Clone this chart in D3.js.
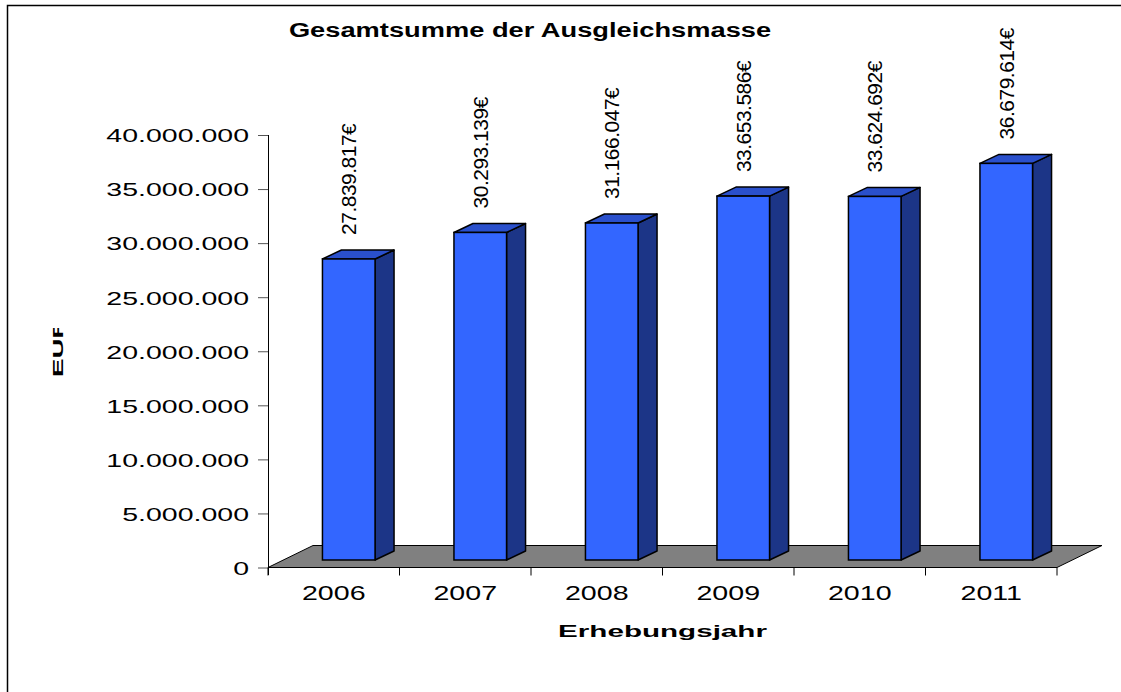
<!DOCTYPE html>
<html>
<head>
<meta charset="utf-8">
<script src="https://cdn.jsdelivr.net/npm/d3@7"></script>
<style>
  html, body { margin: 0; padding: 0; background: #fff; overflow: hidden; }
  svg { display: block; }
  text { font-family: "Liberation Sans", Arial, sans-serif; }
</style>
</head>
<body>
<div id="chart"></div>
<script>
  // data
  var years = ["2006", "2007", "2008", "2009", "2010", "2011"];
  var values = [27839817, 30293139, 31166047, 33653586, 33624692, 36679614];
  var yTicks = [0, 5000000, 10000000, 15000000, 20000000, 25000000, 30000000, 35000000, 40000000];

  var width = 1121, height = 692;

  var de = d3.formatLocale({decimal: ",", thousands: ".", grouping: [3], currency: ["", "€"]});
  var fmt = de.format(",");

  var svg = d3.select("#chart").append("svg")
    .attr("width", width)
    .attr("height", height);

  // outer frame (only top and left edge are inside the picture)
  svg.append("path")
    .attr("d", "M7.5,692V5.5H1121")
    .attr("fill", "none")
    .attr("stroke", "#000")
    .attr("stroke-width", 1.5);

  var x = d3.scaleBand().domain(years).range([268, 1057]).padding(0);
  var y = d3.scaleLinear().domain([0, 40000000]).range([567.5, 135]);

  // 3d offsets
  var floorDx = 45, floorDy = -22;   // full floor depth
  var shiftDx = 15, shiftDy = -7.5;  // bar front plane
  var depDx = 19, depDy = -9;        // bar depth
  var barW = x.bandwidth() * 0.4;

  // floor
  var x0 = x.range()[0], x1 = x.range()[1], y0 = y(0);
  svg.append("polygon")
    .attr("points", [[x0, y0], [x1, y0], [x1 + floorDx, y0 + floorDy], [x0 + floorDx, y0 + floorDy]].join(" "))
    .attr("fill", "#808080")
    .attr("stroke", "#000")
    .attr("stroke-width", 1);

  // bars
  var bars = svg.append("g").selectAll("g")
    .data(years.map(function(d, i) { return {year: d, value: values[i]}; }))
    .enter().append("g");

  function barLeft(d) { return x(d.year) + x.bandwidth() / 2 + shiftDx - barW / 2; }
  function barTop(d) { return y(d.value) + shiftDy; }
  var barBottom = y(0) + shiftDy;

  bars.append("polygon") // side
    .attr("points", function(d) {
      var r = barLeft(d) + barW, t = barTop(d);
      return [[r, t], [r + depDx, t + depDy], [r + depDx, barBottom + depDy], [r, barBottom]].join(" ");
    })
    .attr("fill", "#1c3587").attr("stroke", "#000").attr("stroke-width", 1.5).attr("stroke-linejoin", "round");

  bars.append("polygon") // top
    .attr("points", function(d) {
      var l = barLeft(d), t = barTop(d);
      return [[l, t], [l + barW, t], [l + barW + depDx, t + depDy], [l + depDx, t + depDy]].join(" ");
    })
    .attr("fill", "#2a50cc").attr("stroke", "#000").attr("stroke-width", 1.5).attr("stroke-linejoin", "round");

  bars.append("rect") // front
    .attr("x", barLeft)
    .attr("y", barTop)
    .attr("width", barW)
    .attr("height", function(d) { return barBottom - barTop(d); })
    .attr("fill", "#3366ff").attr("stroke", "#000").attr("stroke-width", 1.5);

  // value labels, rotated
  bars.append("text")
    .attr("transform", function(d) {
      return "translate(" + (barLeft(d) + barW / 2) + "," + (barTop(d) - 24) + ") rotate(-90)";
    })
    .attr("dy", "0.36em")
    .attr("font-size", 21)
    .attr("letter-spacing", -0.5)
    .attr("fill", "#000")
    .text(function(d) { return fmt(d.value) + "€"; });

  // y axis
  var yAxis = svg.append("g")
    .attr("transform", "translate(" + x0 + ",0)")
    .call(d3.axisLeft(y).tickValues(yTicks).tickSize(10).tickSizeOuter(0).tickFormat(fmt));
  yAxis.select(".domain").attr("stroke", "#000").attr("d", "M0.5," + y(40000000) + "V575");
  yAxis.selectAll(".tick line").attr("stroke", "#555");
  yAxis.selectAll(".tick text")
    .attr("font-size", 19)
    .attr("fill", "#000")
    .attr("x", -19 / 1.5)
    .attr("dy", "0.36em")
    .attr("transform", "scale(1.5,1)");

  // x axis
  var xAxis = svg.append("g")
    .attr("transform", "translate(0," + y0 + ")");
  xAxis.append("line")
    .attr("x1", x0).attr("x2", x1)
    .attr("stroke", "#000");
  xAxis.selectAll(".sep")
    .data(years.concat(["end"]))
    .enter().append("line")
    .attr("class", "sep")
    .attr("x1", function(d, i) { return x0 + i * x.bandwidth(); })
    .attr("x2", function(d, i) { return x0 + i * x.bandwidth(); })
    .attr("y1", 0).attr("y2", 8)
    .attr("stroke", "#000");
  xAxis.selectAll(".lbl")
    .data(years)
    .enter().append("text")
    .attr("class", "lbl")
    .attr("transform", function(d) { return "translate(" + (x(d) + x.bandwidth() / 2) + ",32.5) scale(1.43,1)"; })
    .attr("text-anchor", "middle")
    .attr("font-size", 20)
    .text(function(d) { return d; });

  // title
  svg.append("text")
    .attr("transform", "translate(530,37) scale(1.33,1)")
    .attr("text-anchor", "middle")
    .attr("font-size", 20.5)
    .attr("font-weight", "bold")
    .text("Gesamtsumme der Ausgleichsmasse");

  // x axis title
  svg.append("text")
    .attr("transform", "translate(" + ((x0 + x1) / 2) + ",637) scale(1.85,1)")
    .attr("text-anchor", "middle")
    .attr("font-size", 16)
    .attr("font-weight", "bold")
    .text("Erhebungsjahr");

  // y axis title, clipped like in the original
  svg.append("clipPath").attr("id", "eurclip")
    .append("rect").attr("x", 30).attr("y", 328).attr("width", 60).attr("height", 80);
  svg.append("g").attr("clip-path", "url(#eurclip)")
    .append("text")
    .attr("transform", "translate(63,377) rotate(-90) scale(1.85,1)")
    .attr("font-size", 15)
    .attr("font-weight", "bold")
    .text("EUR");
</script>
</body>
</html>
